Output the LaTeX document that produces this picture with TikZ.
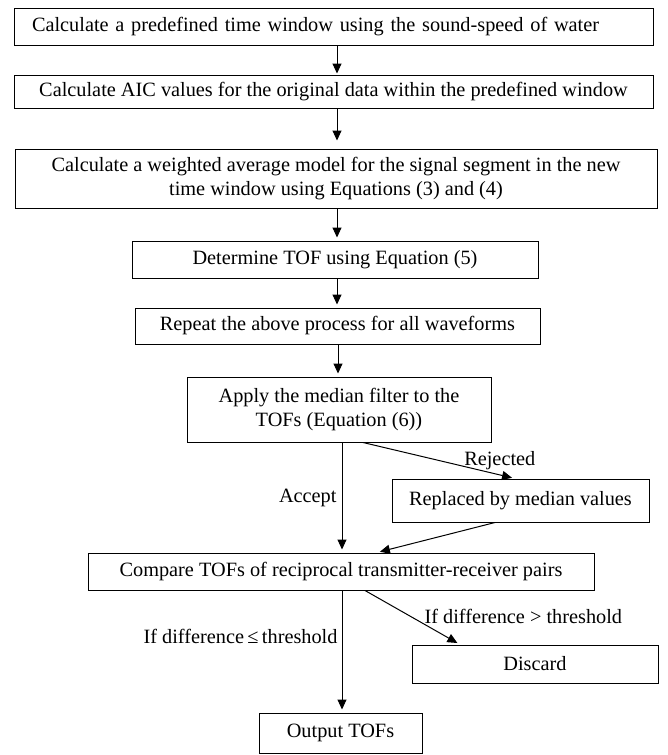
\documentclass[tikz,border=0pt]{standalone}
\usepackage{fontspec}
\setmainfont{Liberation Serif}
\usetikzlibrary{arrows.meta}
\tikzset{
  flow box/.style={draw,line width=1pt,inner sep=2pt,align=center,font=\fontsize{20.3}{24}\selectfont},
  flow arrow/.style={line width=1pt,shorten >=3pt,-{Triangle[length=10pt,width=9pt]}},
  flow label/.style={font=\fontsize{20.3}{24}\selectfont,inner sep=1pt}
}

\begin{document}
\begin{tikzpicture}[x=1pt,y=-1pt,line join=miter]
  \useasboundingbox (0,0) rectangle (667,755);

  % Main chain of processing steps.
  \node[flow box,text width=603pt,align=left,inner xsep=18pt,minimum height=37pt] (win) at (333.5,26.5)
    {Calculate a predefined time window using the sound-speed of water};
  \node[flow box,minimum width=639pt,minimum height=33pt] (aic) at (333.5,91.5)
    {Calculate AIC values for the original data within the predefined window};
  \node[flow box,minimum width=642pt,minimum height=59pt] (wam) at (336,178.5)
    {Calculate a weighted average model for the signal segment in the new\\ time window using Equations (3) and (4)};
  \node[flow box,minimum width=406pt,minimum height=37pt] (tof) at (335,259.5) {Determine TOF using Equation (5)};
  \node[flow box,minimum width=405pt,minimum height=36pt] (rep) at (337.5,326) {Repeat the above process for all waveforms};
  \node[flow box,minimum width=304pt,minimum height=65pt] (med) at (339,409.5) {Apply the median filter to the\\ TOFs (Equation (6))};

  % Branches after the median filter and the reciprocity check.
  \node[flow box,minimum width=257pt,minimum height=43pt] (rpl) at (520.5,500.5) {Replaced by median values};
  \node[flow box,minimum width=506pt,minimum height=37pt] (cmp) at (341,571.5) {Compare TOFs of reciprocal transmitter-receiver pairs};
  \node[flow box,minimum width=246pt,minimum height=38pt] (dis) at (535,664) {Discard};
  \node[flow box,minimum width=163pt,minimum height=40pt] (out) at (340.5,733) {Output TOFs};

  \draw[flow arrow,shorten >=1pt] ([xshift=3.5pt]win.south) -- ([xshift=3.5pt]aic.north);
  \draw[flow arrow,shorten >=8pt] ([xshift=3.5pt]aic.south) -- ([xshift=1pt]wam.north);
  \draw[flow arrow] ([xshift=1pt]wam.south) -- ([xshift=2pt]tof.north);
  \draw[flow arrow] ([xshift=2pt]tof.south) -- ([xshift=-0.5pt]rep.north);
  \draw[flow arrow] ([xshift=0.5pt]rep.south) -- ([xshift=-1pt]med.north);
  \draw[flow arrow] ([xshift=3pt]med.south) -- node[flow label,midway,left=4pt] {Accept} ([xshift=1pt]cmp.north);
  \draw[flow arrow] ([xshift=24pt]med.south) -- node[flow label,pos=0.9,yshift=14pt] {Rejected} ([xshift=-5.5pt]rpl.north);
  \draw[flow arrow] ([xshift=-25.5pt]rpl.south) -- ([xshift=36pt]cmp.north);
  \draw[flow arrow] ([xshift=1pt]cmp.south) -- node[flow label,pos=0.38,left=3pt] {If difference\,≤\,threshold} ([xshift=1.5pt]out.north);
  \draw[flow arrow] ([xshift=24pt]cmp.south) -- node[flow label,pos=0.6,anchor=west,xshift=1pt,yshift=6pt] {If difference > threshold} ([xshift=-75pt]dis.north);
\end{tikzpicture}
\end{document}
